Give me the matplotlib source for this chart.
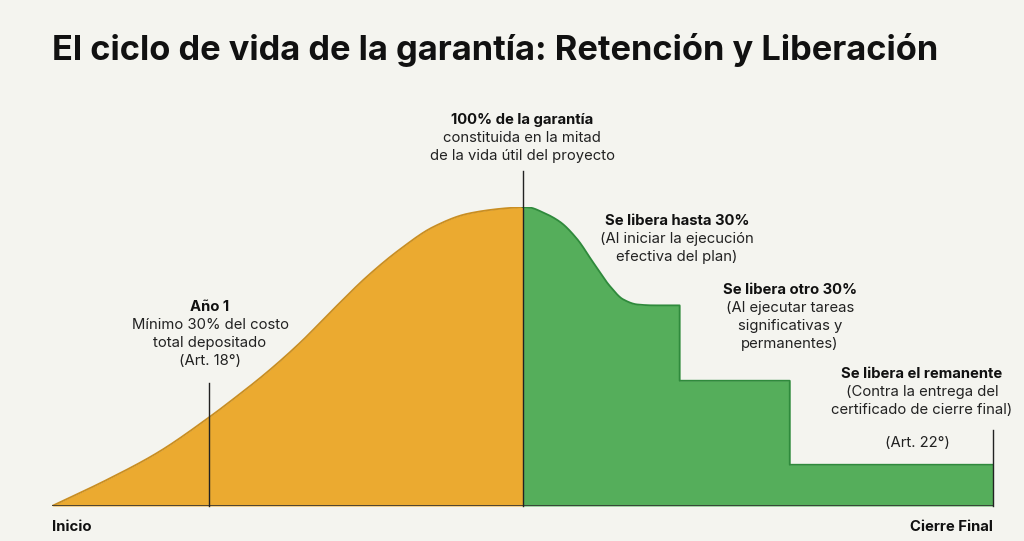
import matplotlib.pyplot as plt
import numpy as np

plt.rcParams['font.family'] = ['Inter', 'DejaVu Sans']

# fraction of project life vs. % of guarantee held
x_build = [0.0, 0.058, 0.112, 0.168, 0.192, 0.228, 0.264, 0.299, 0.335, 0.370, 0.405, 0.441, 0.476, 0.5]
y_build = [0.0, 8.7, 17.8, 29.9, 35.6, 44.6, 54.7, 65.8, 76.8, 85.9, 93.3, 97.7, 99.4, 100.0]

# smooth release part, then the two steps
x_drop = [0.5, 0.508, 0.521, 0.540, 0.558, 0.575, 0.593, 0.607, 0.622, 0.640, 0.667]
y_drop = [100.0, 99.8, 98.3, 95.0, 89.3, 81.5, 73.5, 69.1, 67.4, 67.1, 67.1]
x_steps = [0.667, 0.784, 0.784, 1.0]
y_steps = [41.9, 41.9, 13.8, 13.8]

bg = '#F4F4EF'
orange = '#EBAA30'
green = '#55AE5B'


def smooth(xs, ys, n=300):
    # monotone cubic (Fritsch-Carlson) just for drawing a smooth line through the points
    xs = np.asarray(xs, float)
    ys = np.asarray(ys, float)
    h = np.diff(xs)
    d = np.diff(ys) / h
    m = np.zeros_like(ys)
    m[0], m[-1] = d[0], d[-1]
    for i in range(1, len(xs) - 1):
        if d[i - 1] * d[i] <= 0:
            m[i] = 0
        else:
            w1 = 2 * h[i] + h[i - 1]
            w2 = h[i] + 2 * h[i - 1]
            m[i] = (w1 + w2) / (w1 / d[i - 1] + w2 / d[i])
    xx = np.linspace(xs[0], xs[-1], n)
    k = np.clip(np.searchsorted(xs, xx) - 1, 0, len(xs) - 2)
    t = (xx - xs[k]) / h[k]
    h00 = 2 * t**3 - 3 * t**2 + 1
    h10 = t**3 - 2 * t**2 + t
    h01 = -2 * t**3 + 3 * t**2
    h11 = t**3 - t**2
    yy = h00 * ys[k] + h10 * h[k] * m[k] + h01 * ys[k + 1] + h11 * h[k] * m[k + 1]
    return xx, yy


bx, by = smooth(x_build, y_build)
dx, dy = smooth(x_drop, y_drop)
gx = np.concatenate([dx, x_steps])
gy = np.concatenate([dy, y_steps])

fig = plt.figure(figsize=(10.24, 5.41), dpi=100, facecolor=bg)
ax = fig.add_axes([52/1024, 35/541, 941/1024, 299/541])
ax.set_facecolor(bg)
ax.set_xlim(0, 1)
ax.set_ylim(0, 100)
ax.axis('off')

ax.fill_between(bx, by, 0, color=orange, linewidth=0)
ax.plot(bx, by, color='#C98E22', lw=1.3)
ax.fill_between(gx, gy, 0, color=green, linewidth=0)
ax.plot(gx, gy, color='#2F8A3C', lw=1.3)
ax.plot([0, 1], [0, 0], color='#333333', lw=1.2)

# markers
ax.plot([0.167, 0.167], [0, 41], color='#222222', lw=1, clip_on=False)
ax.plot([0.5, 0.5], [0, 112], color='#222222', lw=1, clip_on=False)
ax.plot([1.0, 1.0], [0, 25.5], color='#222222', lw=1, clip_on=False)

fig.text(52/1024, 1 - 50/541, 'El ciclo de vida de la garantía: Retención y Liberación',
         fontsize=24.8, fontweight='bold', va='center', ha='left', color='#111111')

fs = 10.7


def label(px, py, bold, lines, ha='center'):
    fig.text(px/1024, 1 - py/541, bold, fontsize=fs, fontweight='bold', ha=ha, va='center', color='#111111')
    for i, t in enumerate(lines):
        fig.text(px/1024, 1 - (py + 18*(i+1))/541, t, fontsize=fs, ha=ha, va='center', color='#222222')


label(522, 120, '100% de la garantía', ['constituida en la mitad', 'de la vida útil del proyecto'])
label(210, 307, 'Año 1', ['Mínimo 30% del costo', 'total depositado', '(Art. 18°)'])
label(677, 221, 'Se libera hasta 30%', ['(Al iniciar la ejecución', 'efectiva del plan)'])
label(790, 290, 'Se libera otro 30%', ['(Al ejecutar tareas', 'significativas y', 'permanentes)'])
label(922, 374, 'Se libera el remanente', ['(Contra la entrega del', 'certificado de cierre final)'])
fig.text(917/1024, 1 - 443/541, '(Art. 22°)', fontsize=fs, ha='center', va='center', color='#222222')

fig.text(52/1024, 1 - 527/541, 'Inicio', fontsize=fs, fontweight='bold', ha='left', va='center', color='#111111')
fig.text(993/1024, 1 - 527/541, 'Cierre Final', fontsize=fs, fontweight='bold', ha='right', va='center', color='#111111')

fig.savefig('out.png', dpi=100, facecolor=bg)
